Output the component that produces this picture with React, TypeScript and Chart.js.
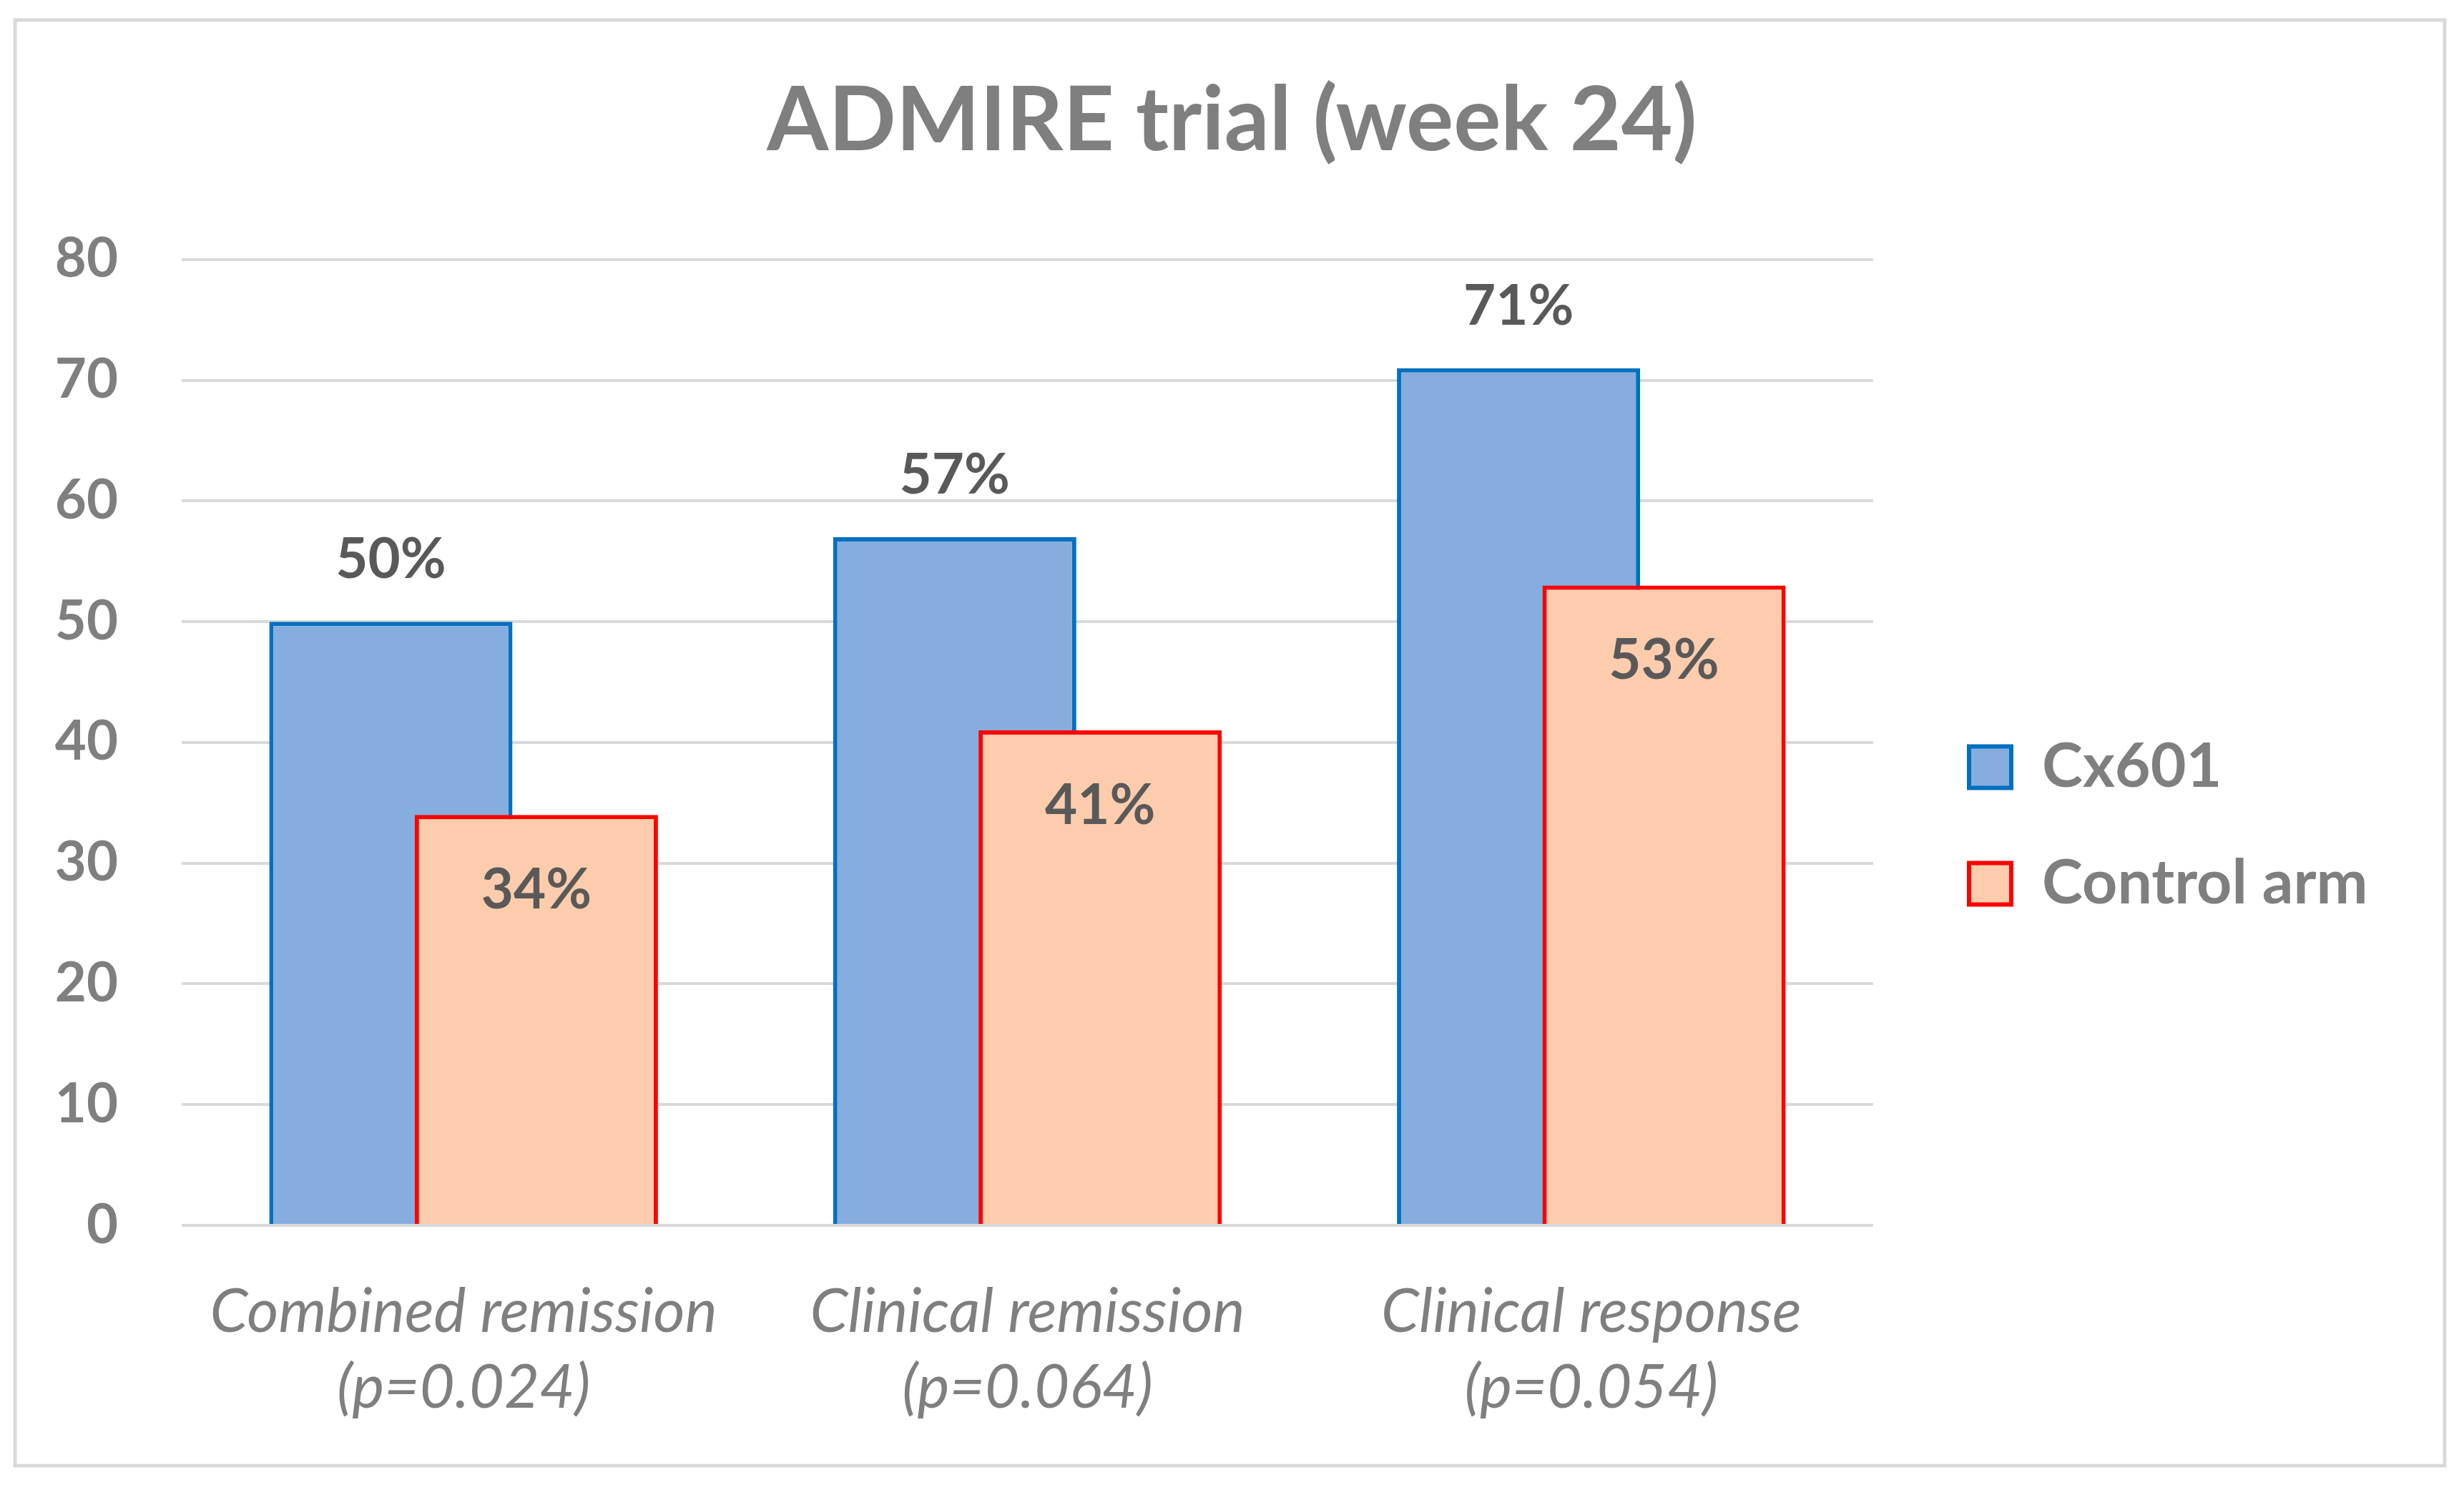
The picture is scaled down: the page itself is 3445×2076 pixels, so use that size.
import React, { useEffect, useRef } from 'react';
import { Chart, registerables } from 'chart.js';

Chart.register(...registerables);

// ---- data ----
const categories = ['Combined remission', 'Clinical remission', 'Clinical response'];
const pValues = ['(p=0.024)', '(p=0.064)', '(p=0.054)'];
const seriesNames = ['Cx601', 'Control arm'];
const cx601Values = [50, 57, 71];
const controlValues = [34, 41, 53];
const yMin = 0;
const yMax = 80;
const yStep = 10;
const titleText = 'ADMIRE trial (week 24)';

// ---- styles ----
const W = 3445;
const H = 2076;
const FONT = 'Lato, "Open Sans", sans-serif';
const GRAY = '#7f7f7f';
const LABEL_GRAY = '#595959';
const BAR_SHIFT = 0.129; // half distance between overlapping bars, in category units

const frame = {
  id: 'frame',
  beforeDraw(chart: any) {
    const ctx = chart.ctx;
    ctx.save();
    ctx.fillStyle = '#ffffff';
    ctx.fillRect(0, 0, chart.width, chart.height);
    ctx.strokeStyle = '#d9d9d9';
    ctx.lineWidth = 5;
    ctx.strokeRect(21, 28, chart.width - 21 - 27, chart.height - 28 - 27);
    ctx.restore();
  },
};

const legendPlace = {
  id: 'legendPlace',
  afterLayout(chart: any) {
    const lg = chart.legend;
    if (!lg) return;
    lg.left = chart.chartArea.right + 57;
    lg.right = chart.width;
    lg.top += 116;
    lg.bottom += 116;
  },
};

const valueLabels = {
  id: 'valueLabels',
  afterDatasetsDraw(chart: any) {
    const ctx = chart.ctx;
    ctx.save();
    ctx.font = `bold 78px ${FONT}`;
    ctx.fillStyle = LABEL_GRAY;
    ctx.textAlign = 'center';
    ctx.textBaseline = 'alphabetic';
    chart.data.datasets.forEach((ds: any, di: number) => {
      const meta = chart.getDatasetMeta(di);
      meta.data.forEach((el: any, i: number) => {
        const v = ds.data[i].y;
        const y = di === 0 ? el.y - 61 : el.y + 131;
        ctx.fillText(`${v}%`, el.x, y);
      });
    });
    ctx.restore();
  },
};

export default function App() {
  const ref = useRef<HTMLCanvasElement | null>(null);

  useEffect(() => {
    let chart: Chart | null = null;
    let cancelled = false;
    const make = () => {
      if (cancelled || !ref.current) return;
      chart = new Chart(ref.current, {
        type: 'bar',
        data: {
          datasets: [
            {
              label: seriesNames[0],
              data: cx601Values.map((y, i) => ({ x: i - BAR_SHIFT, y })),
              backgroundColor: '#85ADDE',
              borderColor: '#0070C0',
              borderWidth: 6,
              order: 1,
            },
            {
              label: seriesNames[1],
              data: controlValues.map((y, i) => ({ x: i + BAR_SHIFT, y })),
              backgroundColor: '#FDCCAC',
              borderColor: '#FF0000',
              borderWidth: 6,
              order: 0,
            },
          ],
        },
        options: {
          responsive: false,
          animation: false,
          devicePixelRatio: 1,
          layout: { padding: 0 },
          datasets: {
            bar: { grouped: false, categoryPercentage: 1, barPercentage: 1.672 },
          } as any,
          plugins: {
            title: {
              display: true,
              text: titleText,
              color: GRAY,
              font: { family: FONT, size: 124, weight: 'bold', lineHeight: 1.2 },
              padding: { top: 96, bottom: 118 },
            },
            legend: {
              position: 'right',
              maxWidth: 300,
              labels: {
                font: { family: FONT, size: 86, weight: 'bold' },
                color: GRAY,
                boxWidth: 59,
                boxHeight: 58,
                padding: 77,
                sort: (a: any, b: any) => a.datasetIndex - b.datasetIndex,
              },
            },
            tooltip: { enabled: false },
          },
          scales: {
            x: {
              type: 'linear',
              offset: false,
              min: -0.5,
              max: categories.length - 0.5,
              grid: { display: false, offset: false },
              border: { display: false },
              afterBuildTicks: (s: any) => {
                s.ticks = categories.map((_, i) => ({ value: i }));
              },
              afterFit: (s: any) => {
                s.height = 363;
              },
              ticks: {
                callback: (v: any) => {
                  const i = Math.round(Number(v));
                  return [categories[i], pValues[i]];
                },
                color: GRAY,
                font: { family: FONT, size: 85, style: 'italic', lineHeight: 1.25 },
                padding: 60,
                maxRotation: 0,
                minRotation: 0,
                autoSkip: false,
              },
            },
            y: {
              type: 'linear',
              min: yMin,
              max: yMax,
              ticks: {
                stepSize: yStep,
                padding: 89,
                color: GRAY,
                font: { family: FONT, size: 76, weight: 'bold' },
              },
              grid: { color: '#d9d9d9', lineWidth: 4, drawTicks: false },
              border: { display: false },
              afterFit: (s: any) => {
                s.width = 254;
              },
            },
            yR: {
              type: 'linear',
              position: 'right',
              display: true,
              grid: { display: false },
              border: { display: false },
              ticks: { display: false },
              afterFit: (s: any) => {
                s.width = 526;
              },
            },
          },
        } as any,
        plugins: [frame, legendPlace, valueLabels],
      });
    };

    const fontsReady = (document as any).fonts
      ? Promise.all([
          (document as any).fonts.load(`bold 80px Lato`),
          (document as any).fonts.load(`italic 80px Lato`),
        ]).catch(() => null)
      : Promise.resolve(null);
    fontsReady.then(make);

    return () => {
      cancelled = true;
      if (chart) chart.destroy();
    };
  }, []);

  return (
    <div style={{ position: 'absolute', left: 0, top: 0, width: W, height: H, background: '#fff' }}>
      <canvas ref={ref} width={W} height={H} style={{ display: 'block', width: W, height: H }} />
    </div>
  );
}
